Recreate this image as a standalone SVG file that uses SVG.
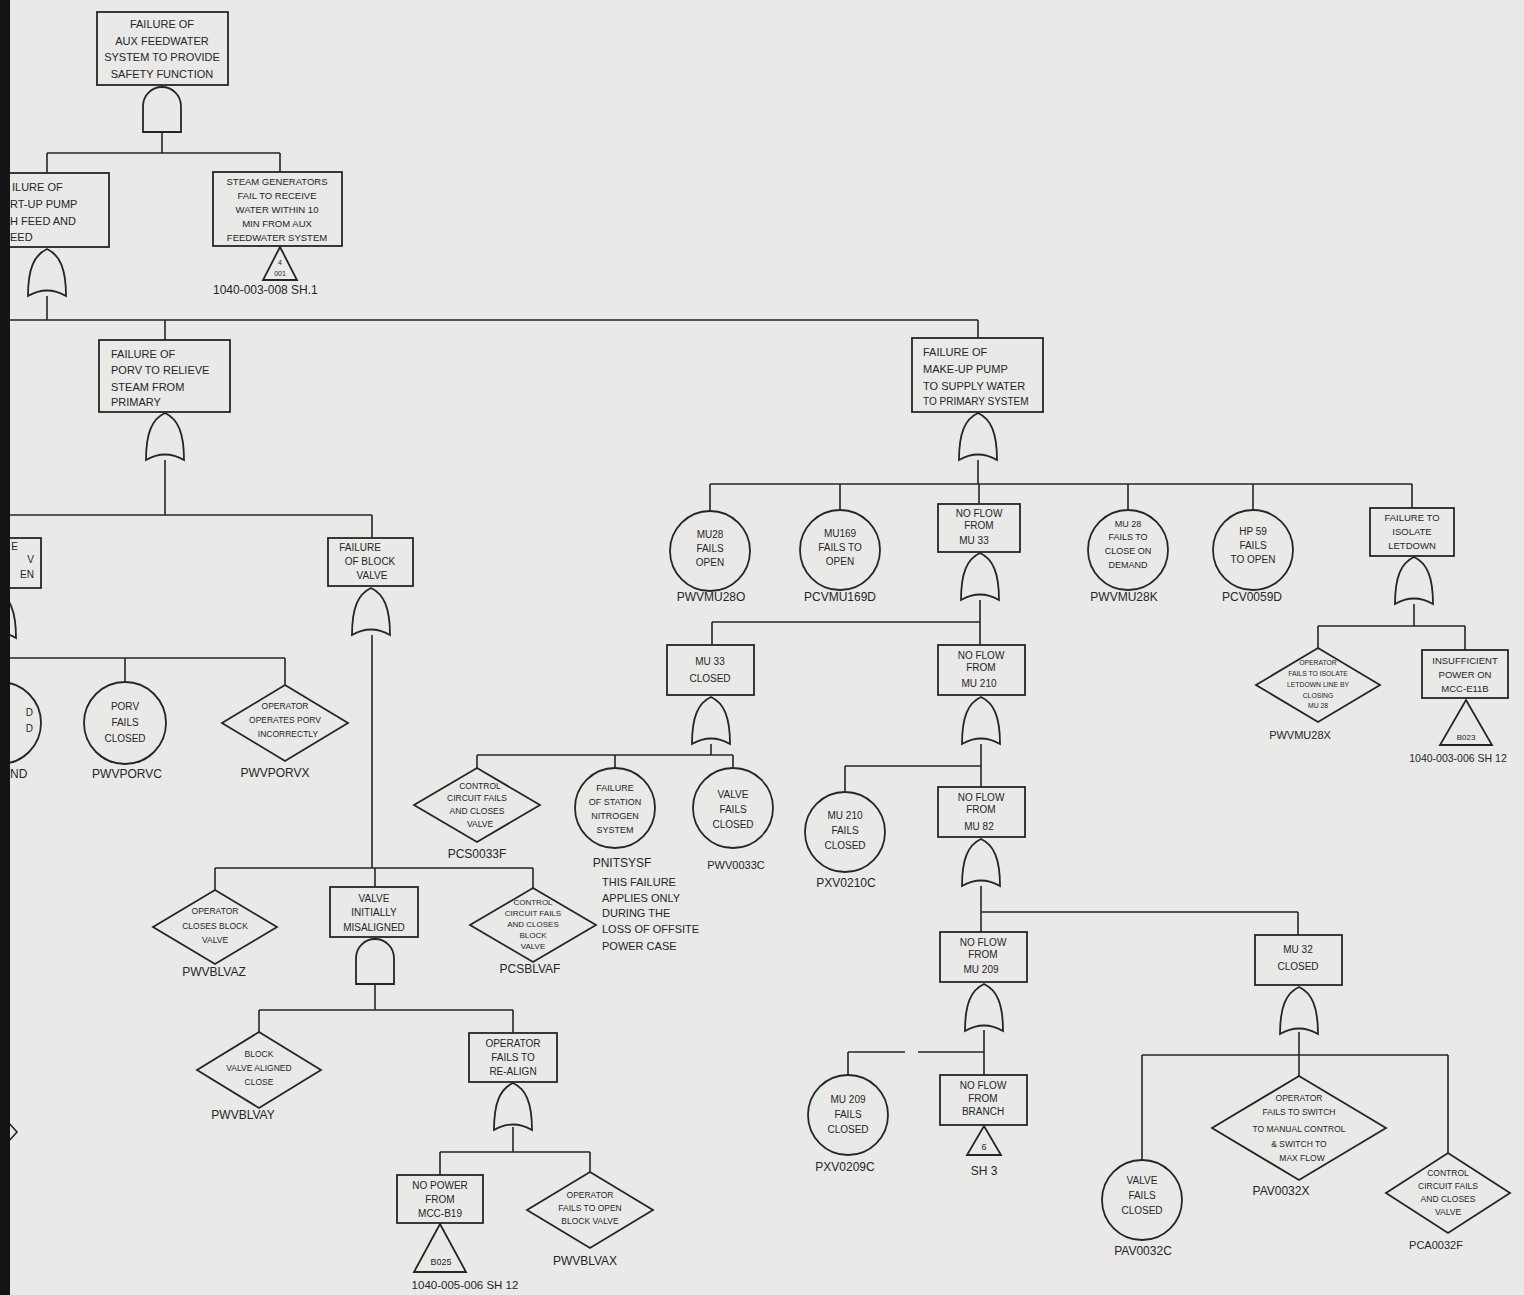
<svg xmlns="http://www.w3.org/2000/svg" xmlns:xlink="http://www.w3.org/1999/xlink" width="1524" height="1295" viewBox="0 0 1524 1295">
<style>
.ln{stroke:#262626;stroke-width:1.6;fill:none}
.bx{stroke:#262626;stroke-width:1.8;fill:none}
.g{stroke:#262626;stroke-width:1.8;fill:none}
text{font-family:"Liberation Sans",Arial,sans-serif;fill:#262626}
.t{font-size:10px;text-anchor:middle}
.tl{font-size:11px}
.s{font-size:8.5px;text-anchor:middle}
.lb{font-size:12px;text-anchor:middle}
</style>
<defs>
<path id="and" d="M-19,46 V20 A19,19 0 0 1 19,20 V46 Z"/>
<path id="or" d="M0,0 C13,6 19,20 19,47 Q0,36 -19,47 C-19,20 -13,6 0,0 Z"/>
</defs>
<rect x="0" y="0" width="1524" height="1295" fill="#e9e9e7"/>

<g id="connectors">
<path class="ln" d="M162,132 V153 M47,153 H280 M47,153 V173 M280,153 V172"/>
<path class="ln" d="M47,296 V320 M10,320 H978 M165,320 V340 M978,320 V338"/>
<path class="ln" d="M165,460 V515 M0,515 H372 M372,515 V538"/>
<path class="ln" d="M-3,638 V658 M0,658 H285 M125,658 V682 M285,658 V685"/>
<path class="ln" d="M372,635 V868 M215,868 H533 M215,868 V890 M375,868 V887 M533,868 V888"/>
<path class="ln" d="M375,984 V1010 M259,1010 H513 M259,1010 V1032 M513,1010 V1033"/>
<path class="ln" d="M513,1127 V1152 M440,1152 H590 M440,1152 V1175 M590,1152 V1172"/>
<path class="ln" d="M978,460 V484 M710,484 H1412 M710,484 V511 M840,484 V510 M979,484 V504 M1128,484 V510 M1253,484 V510 M1412,484 V508"/>
<path class="ln" d="M980,600 V622 M712,622 H980 M712,622 V645 M980,622 V645"/>
<path class="ln" d="M711,744 V755 M477,755 H733 M477,755 V768 M615,755 V768 M733,755 V768"/>
<path class="ln" d="M981,744 V787 M845,766 H981 M845,766 V792"/>
<path class="ln" d="M981,886 V932 M981,912 H1298 M1298,912 V935"/>
<path class="ln" d="M984,1030 V1075 M848,1052 H905 M918,1052 H984 M848,1052 V1075"/>
<path class="ln" d="M1299,1032 V1076 M1142,1055 H1448 M1142,1055 V1160 M1448,1055 V1153"/>
<path class="ln" d="M1414,604 V626 M1318,626 H1465 M1318,626 V648 M1465,626 V650"/>
</g>

<g id="n-top">
<rect class="bx" x="97" y="12" width="131" height="73"/>
<text class="t" style="font-size:11px" x="162" y="28">FAILURE OF</text>
<text class="t" style="font-size:11px" x="162" y="45">AUX FEEDWATER</text>
<text class="t" style="font-size:11px" x="162" y="61">SYSTEM TO PROVIDE</text>
<text class="t" style="font-size:11px" x="162" y="78">SAFETY FUNCTION</text>
<use href="#and" class="g" x="162" y="86"/>
</g>

<g id="n-startup">
<rect class="bx" x="-18" y="173" width="127" height="74"/>
<text class="tl" x="12" y="191">ILURE OF</text>
<text class="tl" x="10" y="208">RT-UP PUMP</text>
<text class="tl" x="10" y="225">H FEED AND</text>
<text class="tl" x="10" y="241">EED</text>
<use href="#or" class="g" x="47" y="249"/>
</g>

<g id="n-sg">
<rect class="bx" x="213" y="172" width="129" height="74"/>
<text class="t" style="font-size:9.5px" x="277" y="185">STEAM GENERATORS</text>
<text class="t" style="font-size:9.5px" x="277" y="199">FAIL TO RECEIVE</text>
<text class="t" style="font-size:9.5px" x="277" y="213">WATER WITHIN 10</text>
<text class="t" style="font-size:9.5px" x="277" y="227">MIN FROM AUX</text>
<text class="t" style="font-size:9.5px" x="277" y="241">FEEDWATER SYSTEM</text>
<polygon class="g" points="280,247 297,280 263,280"/>
<text class="s" style="font-size:7px" x="280" y="265">4</text>
<text class="s" style="font-size:7px" x="280" y="276">001</text>
<text style="font-size:12px" x="213" y="294">1040-003-008  SH.1</text>
</g>

<g id="n-porv">
<rect class="bx" x="99" y="340" width="131" height="72"/>
<text class="tl" x="111" y="358">FAILURE OF</text>
<text class="tl" x="111" y="374">PORV TO RELIEVE</text>
<text class="tl" x="111" y="391">STEAM FROM</text>
<text class="tl" x="111" y="406">PRIMARY</text>
<use href="#or" class="g" x="165" y="413"/>
</g>

<g id="n-makeup">
<rect class="bx" x="912" y="338" width="131" height="74"/>
<text class="tl" x="923" y="356">FAILURE OF</text>
<text class="tl" x="923" y="373">MAKE-UP PUMP</text>
<text class="tl" x="923" y="390">TO SUPPLY WATER</text>
<text class="tl" style="font-size:10px" x="923" y="405">TO PRIMARY SYSTEM</text>
<use href="#or" class="g" x="978" y="413"/>
</g>

<g id="n-porvopen">
<rect class="bx" x="-50" y="538" width="91" height="50"/>
<text class="t" style="text-anchor:end" x="18" y="550">E</text>
<text class="t" style="text-anchor:end" x="34" y="563">V</text>
<text class="t" style="text-anchor:end" x="34" y="578">EN</text>
<use href="#or" class="g" x="-3" y="591"/>
</g>

<g id="n-porvleft">
<circle class="g" cx="0" cy="723" r="41"/>
<text class="t" style="text-anchor:end" x="33" y="716">D</text>
<text class="t" style="text-anchor:end" x="33" y="732">D</text>
<text style="font-size:12px" x="10" y="778">ND</text>
</g>

<g id="n-pwvporvc">
<circle class="g" cx="125" cy="723" r="41"/>
<text class="t" x="125" y="710">PORV</text>
<text class="t" x="125" y="726">FAILS</text>
<text class="t" x="125" y="742">CLOSED</text>
<text class="lb" x="127" y="778">PWVPORVC</text>
</g>

<g id="n-pwvporvx">
<polygon class="g" points="285,685 348,723 285,761 222,723"/>
<text class="s" x="285" y="709">OPERATOR</text>
<text class="s" x="285" y="723">OPERATES PORV</text>
<text class="s" x="288" y="737">INCORRECTLY</text>
<text class="lb" x="275" y="777">PWVPORVX</text>
</g>

<g id="n-block">
<rect class="bx" x="328" y="538" width="85" height="48"/>
<text class="t" x="360" y="551">FAILURE</text>
<text class="t" x="370" y="565">OF BLOCK</text>
<text class="t" x="372" y="579">VALVE</text>
<use href="#or" class="g" x="371" y="588"/>
</g>

<g id="n-pwvblvaz">
<polygon class="g" points="215,890 277,927 215,964 153,927"/>
<text class="s" x="215" y="914">OPERATOR</text>
<text class="s" x="215" y="929">CLOSES BLOCK</text>
<text class="s" x="215" y="943">VALVE</text>
<text class="lb" x="214" y="976">PWVBLVAZ</text>
</g>

<g id="n-misaligned">
<rect class="bx" x="330" y="887" width="88" height="50"/>
<text class="t" x="374" y="902">VALVE</text>
<text class="t" x="374" y="916">INITIALLY</text>
<text class="t" x="374" y="931">MISALIGNED</text>
<use href="#and" class="g" x="375" y="938"/>
</g>

<g id="n-pcsblvaf">
<polygon class="g" points="533,888 596,925 533,962 470,925"/>
<text class="s" style="font-size:8px" x="533" y="905">CONTROL</text>
<text class="s" style="font-size:8px" x="533" y="916">CIRCUIT FAILS</text>
<text class="s" style="font-size:8px" x="533" y="927">AND CLOSES</text>
<text class="s" style="font-size:8px" x="533" y="938">BLOCK</text>
<text class="s" style="font-size:8px" x="533" y="949">VALVE</text>
<text class="lb" x="530" y="973">PCSBLVAF</text>
</g>

<g id="n-pwvblvay">
<polygon class="g" points="259,1032 321,1070 259,1108 197,1070"/>
<text class="s" x="259" y="1057">BLOCK</text>
<text class="s" x="259" y="1071">VALVE ALIGNED</text>
<text class="s" x="259" y="1085">CLOSE</text>
<text class="lb" x="243" y="1119">PWVBLVAY</text>
</g>

<g id="n-realign">
<rect class="bx" x="469" y="1033" width="88" height="49"/>
<text class="t" x="513" y="1047">OPERATOR</text>
<text class="t" x="513" y="1061">FAILS TO</text>
<text class="t" x="513" y="1075">RE-ALIGN</text>
<use href="#or" class="g" x="513" y="1083"/>
</g>

<g id="n-mccb19">
<rect class="bx" x="397" y="1175" width="86" height="48"/>
<text class="t" x="440" y="1189">NO POWER</text>
<text class="t" x="440" y="1203">FROM</text>
<text class="t" x="440" y="1217">MCC-B19</text>
<polygon class="g" points="440,1224 466,1272 414,1272"/>
<text class="s" style="font-size:9px" x="441" y="1265">B025</text>
<text style="font-size:11.5px;text-anchor:middle" x="465" y="1289">1040-005-006  SH 12</text>
</g>

<g id="n-pwvblvax">
<polygon class="g" points="590,1172 653,1210 590,1248 527,1210"/>
<text class="s" x="590" y="1198">OPERATOR</text>
<text class="s" x="590" y="1211">FAILS TO OPEN</text>
<text class="s" x="590" y="1224">BLOCK VALVE</text>
<text class="lb" x="585" y="1265">PWVBLVAX</text>
</g>

<g id="n-mu28o">
<circle class="g" cx="710" cy="551" r="40"/>
<text class="t" x="710" y="538">MU28</text>
<text class="t" x="710" y="552">FAILS</text>
<text class="t" x="710" y="566">OPEN</text>
<text class="lb" x="711" y="601">PWVMU28O</text>
</g>

<g id="n-mu169">
<circle class="g" cx="840" cy="550" r="40"/>
<text class="t" x="840" y="537">MU169</text>
<text class="t" x="840" y="551">FAILS TO</text>
<text class="t" x="840" y="565">OPEN</text>
<text class="lb" x="840" y="601">PCVMU169D</text>
</g>

<g id="n-mu33flow">
<rect class="bx" x="938" y="504" width="82" height="48"/>
<text class="t" x="979" y="517">NO FLOW</text>
<text class="t" x="979" y="529">FROM</text>
<text class="t" x="974" y="544">MU 33</text>
<use href="#or" class="g" x="980" y="553"/>
</g>

<g id="n-mu28k">
<circle class="g" cx="1128" cy="550" r="40"/>
<text class="s" style="font-size:9px" x="1128" y="527">MU 28</text>
<text class="s" style="font-size:9px" x="1128" y="540">FAILS TO</text>
<text class="s" style="font-size:9px" x="1128" y="554">CLOSE ON</text>
<text class="s" style="font-size:9px" x="1128" y="568">DEMAND</text>
<text class="lb" x="1124" y="601">PWVMU28K</text>
</g>

<g id="n-hp59">
<circle class="g" cx="1253" cy="550" r="40"/>
<text class="t" x="1253" y="535">HP 59</text>
<text class="t" x="1253" y="549">FAILS</text>
<text class="t" x="1253" y="563">TO OPEN</text>
<text class="lb" x="1252" y="601">PCV0059D</text>
</g>

<g id="n-letdown">
<rect class="bx" x="1370" y="508" width="84" height="48"/>
<text class="t" style="font-size:9.5px" x="1412" y="521">FAILURE TO</text>
<text class="t" style="font-size:9.5px" x="1412" y="535">ISOLATE</text>
<text class="t" style="font-size:9.5px" x="1412" y="549">LETDOWN</text>
<use href="#or" class="g" x="1414" y="557"/>
</g>

<g id="n-pwvmu28x">
<polygon class="g" points="1318,648 1380,685 1318,722 1256,685"/>
<text class="s" style="font-size:6.8px" x="1318" y="665">OPERATOR</text>
<text class="s" style="font-size:6.8px" x="1318" y="676">FAILS TO ISOLATE</text>
<text class="s" style="font-size:6.8px" x="1318" y="687">LETDOWN LINE BY</text>
<text class="s" style="font-size:6.8px" x="1318" y="698">CLOSING</text>
<text class="s" style="font-size:6.8px" x="1318" y="708">MU 28</text>
<text class="lb" style="font-size:11px" x="1300" y="739">PWVMU28X</text>
</g>

<g id="n-mcce11b">
<rect class="bx" x="1422" y="650" width="86" height="48"/>
<text class="t" style="font-size:9.5px" x="1465" y="664">INSUFFICIENT</text>
<text class="t" style="font-size:9.5px" x="1465" y="678">POWER ON</text>
<text class="t" style="font-size:9.5px" x="1465" y="692">MCC-E11B</text>
<polygon class="g" points="1466,700 1492,745 1440,745"/>
<text class="s" style="font-size:8px" x="1466" y="740">B023</text>
<text style="font-size:10.5px;text-anchor:middle" x="1458" y="762">1040-003-006  SH 12</text>
</g>

<g id="n-mu33closed">
<rect class="bx" x="667" y="645" width="87" height="50"/>
<text class="t" x="710" y="665">MU 33</text>
<text class="t" x="710" y="682">CLOSED</text>
<use href="#or" class="g" x="711" y="697"/>
</g>

<g id="n-pcs0033f">
<polygon class="g" points="477,768 540,805 477,842 414,805"/>
<text class="s" x="480" y="789">CONTROL</text>
<text class="s" x="477" y="801">CIRCUIT FAILS</text>
<text class="s" x="477" y="814">AND CLOSES</text>
<text class="s" x="480" y="827">VALVE</text>
<text class="lb" x="477" y="858">PCS0033F</text>
</g>

<g id="n-nitrogen">
<circle class="g" cx="615" cy="808" r="40"/>
<text class="s" style="font-size:9px" x="615" y="791">FAILURE</text>
<text class="s" style="font-size:9px" x="615" y="805">OF STATION</text>
<text class="s" style="font-size:9px" x="615" y="819">NITROGEN</text>
<text class="s" style="font-size:9px" x="615" y="833">SYSTEM</text>
<text class="lb" x="622" y="867">PNITSYSF</text>
<text style="font-size:11px" x="602" y="886">THIS FAILURE</text>
<text style="font-size:11px" x="602" y="902">APPLIES ONLY</text>
<text style="font-size:11px" x="602" y="917">DURING THE</text>
<text style="font-size:11px" x="602" y="933">LOSS OF OFFSITE</text>
<text style="font-size:11px" x="602" y="950">POWER CASE</text>
</g>

<g id="n-pwv0033c">
<circle class="g" cx="733" cy="808" r="40"/>
<text class="t" x="733" y="798">VALVE</text>
<text class="t" x="733" y="813">FAILS</text>
<text class="t" x="733" y="828">CLOSED</text>
<text class="lb" style="font-size:11px" x="736" y="869">PWV0033C</text>
</g>

<g id="n-mu210flow">
<rect class="bx" x="938" y="645" width="87" height="50"/>
<text class="t" x="981" y="659">NO FLOW</text>
<text class="t" x="981" y="671">FROM</text>
<text class="t" x="979" y="687">MU 210</text>
<use href="#or" class="g" x="981" y="697"/>
</g>

<g id="n-mu210">
<circle class="g" cx="845" cy="832" r="40"/>
<text class="t" x="845" y="819">MU 210</text>
<text class="t" x="845" y="834">FAILS</text>
<text class="t" x="845" y="849">CLOSED</text>
<text class="lb" x="846" y="887">PXV0210C</text>
</g>

<g id="n-mu82flow">
<rect class="bx" x="938" y="787" width="87" height="50"/>
<text class="t" x="981" y="801">NO FLOW</text>
<text class="t" x="981" y="813">FROM</text>
<text class="t" x="979" y="830">MU 82</text>
<use href="#or" class="g" x="981" y="839"/>
</g>

<g id="n-mu209flow">
<rect class="bx" x="940" y="932" width="87" height="50"/>
<text class="t" x="983" y="946">NO FLOW</text>
<text class="t" x="983" y="958">FROM</text>
<text class="t" x="981" y="973">MU 209</text>
<use href="#or" class="g" x="984" y="984"/>
</g>

<g id="n-mu209">
<circle class="g" cx="848" cy="1115" r="40"/>
<text class="t" x="848" y="1103">MU 209</text>
<text class="t" x="848" y="1118">FAILS</text>
<text class="t" x="848" y="1133">CLOSED</text>
<text class="lb" x="845" y="1171">PXV0209C</text>
</g>

<g id="n-branch">
<rect class="bx" x="940" y="1075" width="87" height="50"/>
<text class="t" x="983" y="1089">NO FLOW</text>
<text class="t" x="983" y="1102">FROM</text>
<text class="t" x="983" y="1115">BRANCH</text>
<polygon class="g" points="984,1126 1001,1155 967,1155"/>
<text class="s" style="font-size:9px" x="984" y="1150">6</text>
<text class="lb" x="984" y="1175">SH 3</text>
</g>

<g id="n-mu32closed">
<rect class="bx" x="1255" y="935" width="87" height="50"/>
<text class="t" x="1298" y="953">MU 32</text>
<text class="t" x="1298" y="970">CLOSED</text>
<use href="#or" class="g" x="1299" y="987"/>
</g>

<g id="n-pav0032x">
<polygon class="g" points="1299,1076 1386,1128 1299,1180 1212,1128"/>
<text class="s" x="1299" y="1101">OPERATOR</text>
<text class="s" x="1299" y="1115">FAILS TO SWITCH</text>
<text class="s" x="1299" y="1132">TO MANUAL CONTROL</text>
<text class="s" x="1299" y="1147">&amp; SWITCH TO</text>
<text class="s" x="1302" y="1161">MAX FLOW</text>
<text class="lb" x="1281" y="1195">PAV0032X</text>
</g>

<g id="n-pav0032c">
<circle class="g" cx="1142" cy="1200" r="40"/>
<text class="t" x="1142" y="1184">VALVE</text>
<text class="t" x="1142" y="1199">FAILS</text>
<text class="t" x="1142" y="1214">CLOSED</text>
<text class="lb" x="1143" y="1255">PAV0032C</text>
</g>

<g id="n-pca0032f">
<polygon class="g" points="1448,1153 1510,1193 1448,1233 1386,1193"/>
<text class="s" x="1448" y="1176">CONTROL</text>
<text class="s" x="1448" y="1189">CIRCUIT FAILS</text>
<text class="s" x="1448" y="1202">AND CLOSES</text>
<text class="s" x="1448" y="1215">VALVE</text>
<text class="lb" style="font-size:11px" x="1436" y="1249">PCA0032F</text>
</g>

<path class="ln" d="M8,1122 L17,1132 L8,1142"/>
<rect x="0" y="0" width="10" height="1295" fill="#141414"/>
</svg>
